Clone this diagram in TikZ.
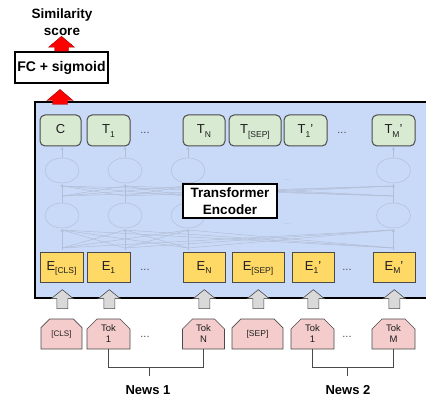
\documentclass[tikz,border=0pt]{standalone}
\usepackage{fontspec}
\setmainfont{Liberation Sans}
\usetikzlibrary{shapes.misc,arrows.meta,calc}

\definecolor{encblue}{HTML}{C9DAF8}
\definecolor{outgreen}{HTML}{D9EAD3}
\definecolor{embyellow}{HTML}{FFD966}
\definecolor{tokpink}{HTML}{F4CCCC}
\definecolor{edgegray}{HTML}{4A4A4A}
\definecolor{liftgray}{HTML}{D9D9D9}
\definecolor{netgray}{RGB}{178,190,214}
\definecolor{inkdark}{HTML}{1E1E1E}

% subscript lowered below the baseline, as in the token labels
\newcommand\lsub[1]{\raisebox{-3.4pt}{\fontsize{8.5}{9}\selectfont #1}}
\newcommand\lblfont{\fontsize{13}{15}\selectfont}

\tikzset{
  encbox/.style={draw=black, line width=2pt, fill=encblue, inner sep=0pt},
  outnode/.style={draw=edgegray, line width=1pt, fill=outgreen, rounded corners=5pt,
    minimum height=31pt, inner sep=0pt, text height=9.3pt, text depth=2.5pt,
    font=\lblfont, text=inkdark},
  embnode/.style={draw=edgegray, line width=0.9pt, fill=embyellow,
    minimum height=30pt, inner sep=0pt, text height=9.3pt, text depth=2.5pt,
    font=\lblfont, text=inkdark},
  toknode/.style={chamfered rectangle, chamfered rectangle corners={north west,north east},
    chamfered rectangle xsep=5pt, chamfered rectangle ysep=5pt,
    draw=edgegray, line width=0.7pt, fill=tokpink, minimum height=30pt, inner sep=0pt,
    align=center, font=\fontsize{9.5}{11}\selectfont, text=inkdark},
  dotsnode/.style={font=\fontsize{11}{11}\selectfont, text=edgegray},
  boldtext/.style={font=\bfseries\fontsize{13.5}{17}\selectfont, align=center, text=black},
  whitebox/.style={draw=black, line width=1.5pt, fill=white, inner sep=0pt, align=center,
    font=\bfseries\fontsize{13.5}{17}\selectfont},
  netline/.style={draw=netgray, line width=0.5pt},
  netarrow/.style={netline, -{Stealth[length=3pt,width=3pt]}},
  bracket/.style={draw=edgegray, line width=1pt},
  redlift/.style={fill=red, draw=red!60!black, line width=0.4pt},
  graylift/.style={fill=liftgray, draw=edgegray, line width=0.6pt},
  % upward block arrow: total length, head length, head half width, shaft half width
  pics/blockup/.style n args={4}{code={
    \path[pic actions] (-#4,0) -- (-#4,#2-#1) -- (-#3,#2-#1) -- (0,-#1)
      -- (#3,#2-#1) -- (#4,#2-#1) -- (#4,0) -- cycle;}},
}

\begin{document}
\begin{tikzpicture}[x=1pt,y=-1pt]
\useasboundingbox (0,0) rectangle (426,401);

% encoder panel
\node[encbox, minimum width=410pt, minimum height=196pt, anchor=north west] (encoder) at (34,101) {};

% faint transformer network inside the panel
\foreach \a in {62,125,188,393.5} {
  \draw[netline] (\a,215.5) ellipse [x radius=17pt, y radius=12.5pt];
  \draw[netline] (\a,170.5) ellipse [x radius=17pt, y radius=12.5pt];
  \draw[netarrow] (\a,250) -- (\a,229);
  \draw[netarrow] (\a,203) -- (\a,184);
  \draw[netarrow] (\a,158) -- (\a,147);
  \foreach \b in {62,125,188,393.5} {
    \draw[netline] (\a,248) -- (\b,230);
    \draw[netline] (\a,196) -- (\b,186);
  }
}
\node[text=netgray, font=\fontsize{9}{9}\selectfont] (netdotsa) at (287,180) {...};
\node[text=netgray, font=\fontsize{9}{9}\selectfont] (netdotsb) at (287,224) {...};

\node[whitebox, minimum width=94pt, minimum height=34pt] (enclabel) at (230,201) {Transformer\\Encoder};

% output tokens
\node[outnode, minimum width=41pt] (outc) at (60.5,130.5) {C};
\node[outnode, minimum width=43pt] (outa1) at (108.5,130.5) {T\lsub{1}};
\node[dotsnode] (outdotsa) at (145,133) {...};
\node[outnode, minimum width=42pt] (outan) at (204,130.5) {T\lsub{N}};
\node[outnode, minimum width=52pt] (outsep) at (255,130.5) {T\lsub{[SEP]}};
\node[outnode, minimum width=43pt] (outb1) at (305.5,130.5) {T\lsub{1}'};
\node[dotsnode] (outdotsb) at (342,133) {...};
\node[outnode, minimum width=43pt] (outbm) at (393.5,130.5) {T\lsub{M}'};

% input embeddings
\node[embnode, minimum width=43pt] (embcls) at (61.5,267) {E\lsub{[CLS]}};
\node[embnode, minimum width=43pt] (emba1) at (108.5,267) {E\lsub{1}};
\node[dotsnode] (embdotsa) at (145,270) {...};
\node[embnode, minimum width=42pt] (emban) at (204,267) {E\lsub{N}};
\node[embnode, minimum width=52pt] (embsep) at (258,267) {E\lsub{[SEP]}};
\node[embnode, minimum width=42pt] (embb1) at (313,267) {E\lsub{1}'};
\node[dotsnode] (embdotsb) at (347,270) {...};
\node[embnode, minimum width=42pt] (embbm) at (394,267) {E\lsub{M}'};

% input tokens
\node[toknode, minimum width=41pt, font=\fontsize{8}{10}\selectfont] (tokcls) at (61.5,334) {[CLS]};
\node[toknode, minimum width=43pt] (toka1) at (108.5,334) {Tok\\1};
\node[dotsnode] (tokdotsa) at (145,337) {...};
\node[toknode, minimum width=42pt] (tokan) at (203.5,334) {Tok\\N};
\node[toknode, minimum width=51pt, font=\fontsize{8.5}{10}\selectfont] (toksep) at (257.5,334) {[SEP]};
\node[toknode, minimum width=43pt] (tokb1) at (312.5,334) {Tok\\1};
\node[dotsnode] (tokdotsb) at (347,337) {...};
\node[toknode, minimum width=43pt] (tokbm) at (393.5,334) {Tok\\M};

% token to embedding lifts
\foreach \t in {tokcls,toka1,tokan,toksep,tokb1,tokbm}
  \pic[graylift] at ($(\t.north)+(0.8,-10)$) {blockup={19}{9}{11}{5.5}};

% sentence brackets
\draw[bracket] (toka1.south) -- ++(0,18) -| (tokan.south);
\coordinate (newsonetick) at (149,367);
\draw[bracket] (newsonetick) -- ++(0,9);
\node[boldtext, font=\bfseries\fontsize{13}{15}\selectfont] (newsone) at (148,390) {News 1};
\draw[bracket] (tokb1.south) -- ++(0,18) -| (tokbm.south);
\coordinate (newstwotick) at (347,367);
\draw[bracket] (newstwotick) -- ++(0,9);
\node[boldtext, font=\bfseries\fontsize{13}{15}\selectfont] (newstwo) at (348,390) {News 2};

% classification head
\node[whitebox, minimum width=93pt, minimum height=31pt, font=\bfseries\fontsize{14}{17}\selectfont] (fc) at (61.5,67.5) {FC + sigmoid};
\node[boldtext] (score) at (62,22) {Similarity\\score};
\pic[redlift] at (fc.north) {blockup={15}{11}{13}{7}};
\pic[redlift] at ($(outc.north)+(-0.5,-10)$) {blockup={15}{11}{13}{7.5}};
\end{tikzpicture}
\end{document}
